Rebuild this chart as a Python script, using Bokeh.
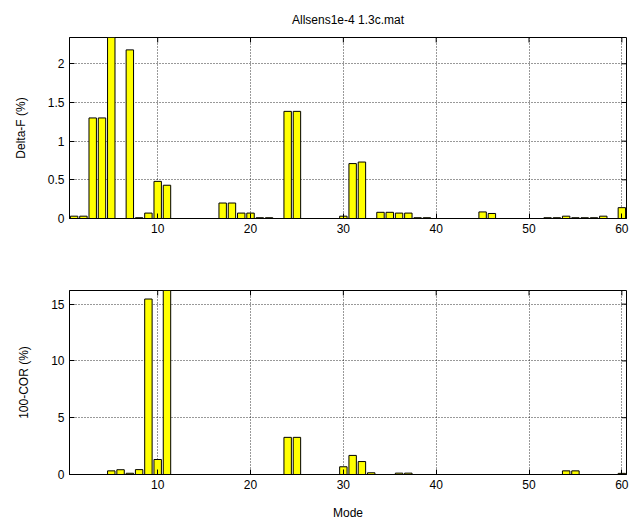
import math
from bokeh.plotting import figure
from bokeh.layouts import column
from bokeh.models import Range1d, FixedTicker, ColumnDataSource
from bokeh.embed import file_html
from bokeh.resources import INLINE

modes = list(range(1, 61))

delta_f = [0.03, 0.03, 1.30, 1.30, 2.60, 0.0, 2.18, 0.01, 0.07, 0.48,
           0.43, 0.0, 0.0, 0.0, 0.0, 0.0, 0.20, 0.20, 0.07, 0.07,
           0.01, 0.01, 0.0, 1.385, 1.385, 0.0, 0.0, 0.0, 0.0, 0.03,
           0.71, 0.73, 0.0, 0.08, 0.08, 0.07, 0.07, 0.01, 0.01, 0.0,
           0.0, 0.0, 0.0, 0.0, 0.085, 0.065, 0.0, 0.0, 0.0, 0.0,
           0.0, 0.01, 0.01, 0.03, 0.01, 0.01, 0.01, 0.03, 0.0, 0.14]

cor = [0.0, 0.0, 0.0, 0.0, 0.32, 0.42, 0.11, 0.43, 15.45, 1.32,
       17.0, 0.0, 0.0, 0.0, 0.0, 0.0, 0.0, 0.0, 0.0, 0.0,
       0.0, 0.0, 0.0, 3.27, 3.27, 0.0, 0.0, 0.0, 0.0, 0.68,
       1.68, 1.14, 0.15, 0.0, 0.0, 0.12, 0.12, 0.0, 0.0, 0.0,
       0.0, 0.0, 0.0, 0.0, 0.0, 0.0, 0.0, 0.0, 0.0, 0.0,
       0.0, 0.0, 0.0, 0.32, 0.32, 0.0, 0.0, 0.0, 0.0, 0.10]

x_ticks = [10, 20, 30, 40, 50, 60]
df_ticks = [0, 0.5, 1, 1.5, 2]
cor_ticks = [0, 5, 10, 15]

X_START, X_END = 0.5, 60.5
FONT = "Liberation Sans"
FS = "12px"


def style_axis(ax):
    ax.major_tick_in = 5
    ax.major_tick_out = 0
    ax.minor_tick_in = 0
    ax.minor_tick_out = 0
    ax.axis_line_color = "black"
    ax.major_tick_line_color = "black"
    ax.major_label_text_font = FONT
    ax.major_label_text_font_size = FS
    ax.major_label_text_color = "black"
    ax.major_label_standoff = 5
    ax.axis_label_text_font = FONT
    ax.axis_label_text_font_style = "normal"
    ax.axis_label_text_font_size = FS
    ax.axis_label_text_color = "black"


def make_fig(values, y_end, y_ticks, ylabel, height, btop, bbottom, title=None, xlabel=None):
    p = figure(width=633, height=height,
               x_range=Range1d(X_START, X_END), y_range=Range1d(0, y_end),
               output_backend="svg", toolbar_location=None,
               min_border_left=69, min_border_right=7,
               min_border_top=btop, min_border_bottom=bbottom,
               title=title)
    p.background_fill_color = "white"
    p.border_fill_color = "white"
    p.outline_line_color = "black"
    p.outline_line_width = 1

    for g in (p.xgrid[0], p.ygrid[0]):
        g.grid_line_color = "black"
        g.grid_line_alpha = 0.8
        g.grid_line_dash = "1 2"
        g.grid_line_width = 1

    src = ColumnDataSource(dict(x=modes, top=values))
    p.vbar(x="x", top="top", bottom=0, width=0.8, source=src,
           fill_color="#ffff00", line_color="black", line_width=1)

    # inward ticks on the right and top edges of the box
    p.scatter(x=[X_END] * len(y_ticks), y=y_ticks, marker="dash", size=10,
              line_color="black", line_width=1)
    p.scatter(x=x_ticks, y=[y_end] * len(x_ticks), marker="dash", size=10,
              angle=math.pi / 2, line_color="black", line_width=1)

    p.xaxis.ticker = FixedTicker(ticks=x_ticks)
    p.yaxis.ticker = FixedTicker(ticks=y_ticks)
    style_axis(p.xaxis[0])
    style_axis(p.yaxis[0])
    p.yaxis.axis_label = ylabel
    p.yaxis.axis_label_standoff = 17
    if xlabel:
        p.xaxis.axis_label = xlabel
        p.xaxis.axis_label_standoff = 14

    if title:
        p.title.text_font = FONT
        p.title.text_font_size = FS
        p.title.text_font_style = "normal"
        p.title.text_color = "black"
        p.title.align = "center"
        p.title.standoff = 21
    return p


p1 = make_fig(delta_f, 2.34, df_ticks, "Delta-F (%)", 253, 36, 35,
              title="Allsens1e-4 1.3c.mat")
p2 = make_fig(cor, 16.2, cor_ticks, "100-COR (%)", 273, 37, 52,
              xlabel="Mode")

layout = column(p1, p2, spacing=0)
open("out.html", "w").write(file_html(layout, INLINE))
